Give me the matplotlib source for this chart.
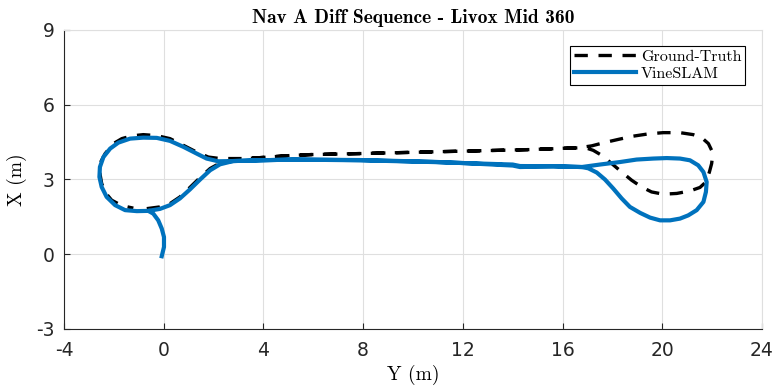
import matplotlib
matplotlib.use("Agg")
import matplotlib.pyplot as plt

# VineSLAM trajectory (Y, X) in metres
vs_y = [-0.08, 0.01, 0.01, -0.08, -0.22, -0.42, -0.62,
        -0.15, 0.25, 0.65, 1.05, 1.46, 1.86, 2.26, 2.79, 3.86, 5.2, 7.9, 10.8, 12.0, 14.0, 14.29, 15.63, 16.77,
        17.5, 18.30, 18.97, 19.64, 20.18, 20.71, 21.11, 21.44, 21.65, 21.78, 21.75, 21.65, 21.38, 21.04, 20.71,
        20.31, 19.91, 19.51, 19.11, 18.70, 18.37, 18.03, 17.70, 17.37, 17.03, 16.77,
        15.63, 14.29, 14.0, 12.0, 10.8, 7.9, 5.2, 3.86, 2.79, 2.19, 1.72, 1.32, 0.79, 0.25, -0.28, -0.82,
        -1.35, -1.82, -2.15, -2.42, -2.56, -2.58, -2.49, -2.29, -1.95, -1.55, -1.08, -0.62]
vs_x = [-0.08, 0.29, 0.69, 1.03, 1.36, 1.63, 1.74,
        1.82, 1.97, 2.24, 2.60, 3.00, 3.37, 3.61, 3.74, 3.77, 3.80, 3.77, 3.70, 3.66, 3.60, 3.54, 3.53, 3.50,
        3.60, 3.70, 3.80, 3.84, 3.86, 3.84, 3.77, 3.57, 3.30, 2.90, 2.50, 2.10, 1.77, 1.56, 1.43,
        1.36, 1.36, 1.47, 1.66, 1.90, 2.24, 2.64, 3.00, 3.28, 3.45, 3.50,
        3.53, 3.50, 3.56, 3.66, 3.71, 3.78, 3.80, 3.77, 3.74, 3.73, 3.84, 4.04, 4.31, 4.55, 4.67, 4.68,
        4.64, 4.48, 4.24, 3.90, 3.50, 3.10, 2.70, 2.30, 1.97, 1.77, 1.73, 1.74]

# Ground-truth trajectory (Y, X) in metres
gt_y = [-0.68, -0.15, 0.25, 0.65, 1.05, 1.46, 1.86, 2.26, 2.79, 3.33, 5.2, 5.93, 7.87, 10.8, 14.69, 16.70,
        17.17, 17.63, 18.24, 18.84, 19.44, 20.04, 20.71, 21.24, 21.58, 21.85, 21.98, 22.01, 21.98, 21.89, 21.75,
        21.51, 21.11, 20.58, 20.04, 19.57, 19.17, 18.77, 18.37, 17.97, 17.57, 17.23, 16.90,
        14.69, 10.8, 7.87, 5.93, 5.2, 3.33, 2.26, 1.79, 1.32, 0.79, 0.25, -0.28, -0.82, -1.28, -1.68, -2.02,
        -2.35, -2.56, -2.56, -2.49, -2.33, -2.09, -1.68, -1.22]
gt_x = [1.83, 1.90, 2.03, 2.30, 2.68, 3.08, 3.44, 3.66, 3.80, 3.84, 3.97, 4.00, 4.04, 4.11, 4.20, 4.28,
        4.35, 4.47, 4.61, 4.74, 4.83, 4.88, 4.88, 4.80, 4.68, 4.44, 4.17, 3.90, 3.64, 3.30, 2.90,
        2.68, 2.54, 2.44, 2.41, 2.50, 2.70, 2.97, 3.30, 3.64, 3.97, 4.17, 4.28,
        4.20, 4.11, 4.04, 4.00, 3.97, 3.84, 3.84, 3.90, 4.10, 4.37, 4.64, 4.76, 4.80, 4.75, 4.64, 4.44,
        4.04, 3.64, 3.24, 2.84, 2.46, 2.17, 1.95, 1.85]

xticks = [-4, 0, 4, 8, 12, 16, 20, 24]
yticks = [-3, 0, 3, 6, 9]

fig = plt.figure(figsize=(7.77, 3.91), dpi=100)
ax = fig.add_axes([0.0824, 0.1586, 0.8983, 0.7647])

ax.plot(gt_y, gt_x, color='black', lw=2.4, linestyle=(0, (4.0, 3.2)), label='Ground-Truth', zorder=3)
ax.plot(vs_y, vs_x, color='#0072BD', lw=3.0, label='VineSLAM', zorder=4, solid_joinstyle='round')

ax.set_xlim(-4, 24)
ax.set_ylim(-3, 9)
ax.set_xticks(xticks)
ax.set_yticks(yticks)
ax.set_xticklabels([str(t) for t in xticks])
ax.set_yticklabels([str(t) for t in yticks])
for lbl in ax.get_xticklabels() + ax.get_yticklabels():
    lbl.set_fontfamily(['DejaVu Sans'])
    lbl.set_fontsize(13.5)
    lbl.set_color('#262626')

ax.grid(True, color='#dfdfdf', lw=0.8)
ax.set_axisbelow(True)
ax.tick_params(direction='in', length=4, width=0.8, colors='#262626')
ax.tick_params(axis='x', pad=9)
ax.tick_params(axis='y', pad=7)
for s in ['top', 'right']:
    ax.spines[s].set_color('#dfdfdf')
    ax.spines[s].set_linewidth(0.8)
for s in ['left', 'bottom']:
    ax.spines[s].set_color('#262626')
    ax.spines[s].set_linewidth(0.8)

ax.set_title('Nav A Diff Sequence - Livox Mid 360', fontfamily='cmb10', fontsize=14, pad=5)
ax.set_xlabel('Y (m)', fontfamily='cmr10', fontsize=14, labelpad=3)
ax.set_ylabel('X (m)', fontfamily='cmr10', fontsize=14, labelpad=6)

leg = ax.legend(loc='upper right', bbox_to_anchor=(0.976, 0.947), prop={'family': 'cmr10', 'size': 11.5},
                fancybox=False, framealpha=1, edgecolor='black', handlelength=3.9,
                borderpad=0.25, labelspacing=0.15, handletextpad=0.3, borderaxespad=0)
leg.get_frame().set_linewidth(0.8)

fig.savefig('out.png', dpi=100)
